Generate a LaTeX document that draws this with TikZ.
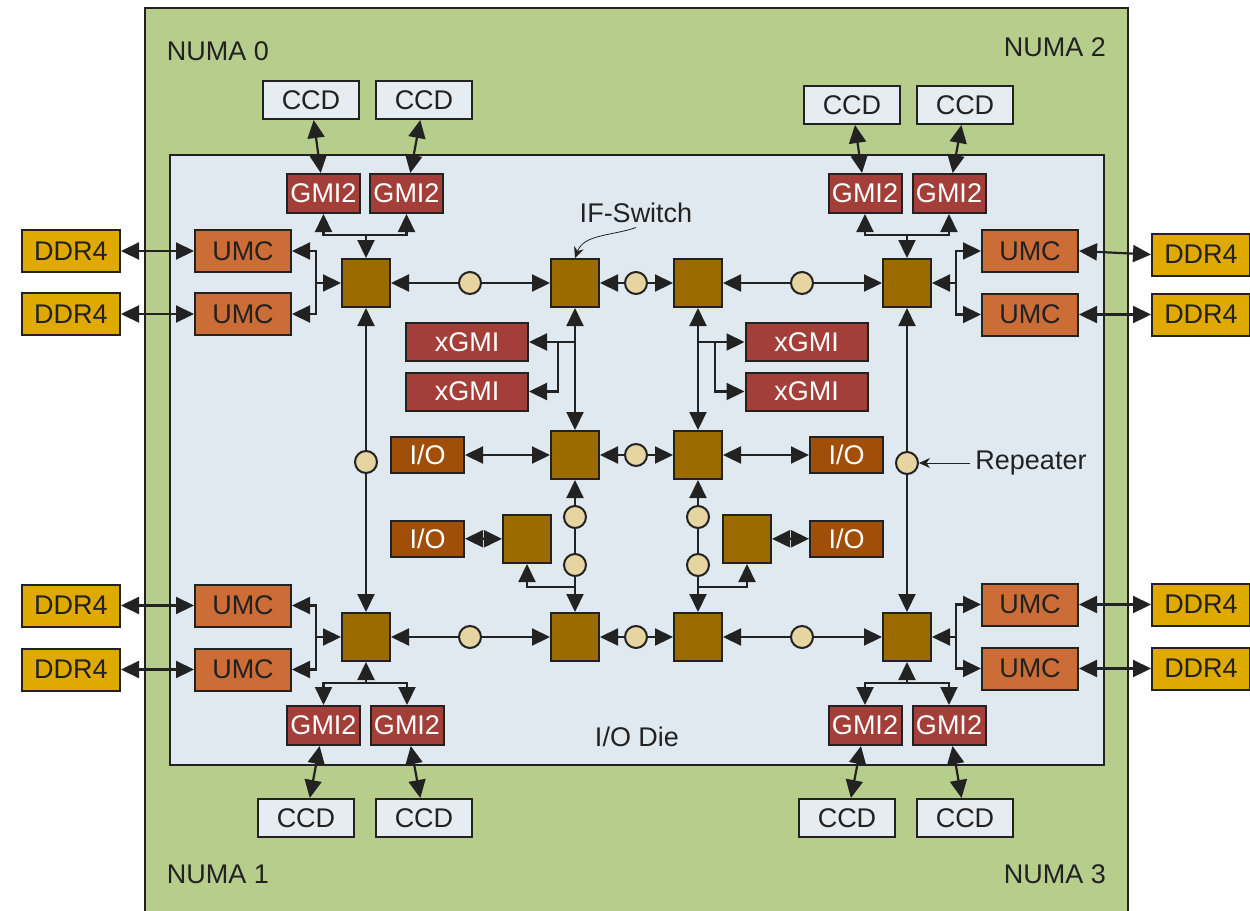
\documentclass[tikz,border=0pt]{standalone}
\usepackage{fontspec}
\setmainfont{Liberation Sans}
\usetikzlibrary{arrows.meta}

\definecolor{ink}{HTML}{222222}
\definecolor{numagreen}{HTML}{B6CD8C}
\definecolor{diebg}{HTML}{E1E9F0}
\definecolor{ccdbg}{HTML}{E5EDF3}
\definecolor{gmired}{HTML}{A33F38}
\definecolor{umcorange}{HTML}{CC6C36}
\definecolor{ddrgold}{HTML}{E0A900}
\definecolor{swbrown}{HTML}{9C6B00}
\definecolor{iobrown}{HTML}{A04E08}
\definecolor{reptan}{HTML}{E6D4A1}

\begin{document}
\begin{tikzpicture}[x=0.5pt,y=-0.5pt,line width=1.1pt,draw=ink,
    >={Triangle[length=9pt,width=8.5pt]},
    every node/.style={font=\fontsize{13.5}{16}\selectfont,text=ink},
    box/.style={draw=ink,line width=1pt,inner sep=0pt},
    ccd/.style={box,fill=ccdbg,minimum width=48pt,minimum height=19pt},
    gmi/.style={box,fill=gmired,text=white,minimum width=36.5pt,minimum height=19.5pt},
    xgmi/.style={box,fill=gmired,text=white,minimum width=61pt,minimum height=19pt},
    umc/.style={box,fill=umcorange,minimum width=48pt,minimum height=21pt},
    ddr/.style={box,fill=ddrgold,minimum width=49pt,minimum height=21pt},
    io/.style={box,fill=iobrown,text=white,minimum width=36.5pt,minimum height=18pt},
    sw/.style={box,fill=swbrown,minimum size=24pt},
    rep/.style={circle,draw=ink,line width=1pt,fill=reptan,minimum size=11pt,inner sep=0pt},
    note/.style={inner sep=2pt},
    pointer/.style={thin,-{Stealth[length=5.5pt,width=5pt]}}]

    \useasboundingbox (0,0) rectangle (1250,911);

    % package and I/O die
    \draw[line width=1pt,fill=numagreen] (145,8) rectangle (1128,940);
    \draw[line width=1pt,fill=diebg] (170,155) rectangle (1104,765);

    % labels
    \node (numa0) at (218,51) {NUMA 0};
    \node (numa2) at (1055,47) {NUMA 2};
    \node (numa1) at (218,874) {NUMA 1};
    \node (numa3) at (1055,874) {NUMA 3};
    \node (die) at (637,737) {I/O Die};
    \node[note] (ifsw) at (636,212.5) {IF-Switch};
    \node[note] (replabel) at (1031,463) {Repeater};

    % NUMA 0
    \node[ccd] (ccdA1) at (311,100) {CCD};
    \node[ccd] (ccdA2) at (424,100) {CCD};
    \node[gmi] (gmiA1) at (323.5,193.5) {GMI2};
    \node[gmi] (gmiA2) at (406.5,193.5) {GMI2};
    \node[ddr] (ddrA1) at (71,251) {DDR4};
    \node[ddr] (ddrA2) at (71,314) {DDR4};
    \node[umc] (umcA1) at (243,251) {UMC};
    \node[umc] (umcA2) at (243,314) {UMC};
    \node[sw] (swA) at (366,283) {};

    % NUMA 2
    \node[ccd] (ccdC1) at (852,105) {CCD};
    \node[ccd] (ccdC2) at (965,105) {CCD};
    \node[gmi] (gmiC1) at (865,193.5) {GMI2};
    \node[gmi] (gmiC2) at (949,193.5) {GMI2};
    \node[ddr] (ddrC1) at (1201,254.5) {DDR4};
    \node[ddr] (ddrC2) at (1201,314.5) {DDR4};
    \node[umc] (umcC1) at (1030,251) {UMC};
    \node[umc] (umcC2) at (1030,314.5) {UMC};
    \node[sw] (swC) at (907,283) {};

    % NUMA 1
    \node[ccd] (ccdB1) at (306,818) {CCD};
    \node[ccd] (ccdB2) at (424,818) {CCD};
    \node[gmi] (gmiB1) at (323.5,725.5) {GMI2};
    \node[gmi] (gmiB2) at (407,725.5) {GMI2};
    \node[ddr] (ddrB1) at (71,605.5) {DDR4};
    \node[ddr] (ddrB2) at (71,669.5) {DDR4};
    \node[umc] (umcB1) at (243,605.5) {UMC};
    \node[umc] (umcB2) at (243,669.5) {UMC};
    \node[sw] (swB) at (366,637) {};

    % NUMA 3
    \node[ccd] (ccdD1) at (847,818) {CCD};
    \node[ccd] (ccdD2) at (965,818) {CCD};
    \node[gmi] (gmiD1) at (865,725.5) {GMI2};
    \node[gmi] (gmiD2) at (949,725.5) {GMI2};
    \node[ddr] (ddrD1) at (1201,604.5) {DDR4};
    \node[ddr] (ddrD2) at (1201,668.5) {DDR4};
    \node[umc] (umcD1) at (1030,604.5) {UMC};
    \node[umc] (umcD2) at (1030,668.5) {UMC};
    \node[sw] (swD) at (907,637) {};

    % centre switches, xGMI and I/O
    \node[sw] (swT1) at (575,283) {};
    \node[sw] (swT2) at (698,283) {};
    \node[sw] (swM1) at (575,455) {};
    \node[sw] (swM2) at (698,455) {};
    \node[sw] (swB1) at (575,637) {};
    \node[sw] (swB2) at (698,637) {};
    \node[sw] (swS1) at (527,539) {};
    \node[sw] (swS2) at (747,539) {};
    \node[xgmi] (xgmiL1) at (467,342) {xGMI};
    \node[xgmi] (xgmiL2) at (467,391.5) {xGMI};
    \node[xgmi] (xgmiR1) at (806.5,342) {xGMI};
    \node[xgmi] (xgmiR2) at (806.5,391.5) {xGMI};
    \node[io] (ioL1) at (427.5,455) {I/O};
    \node[io] (ioL2) at (427.5,538.5) {I/O};
    \node[io] (ioR1) at (846.5,455) {I/O};
    \node[io] (ioR2) at (846.5,538.5) {I/O};

    % repeaters
    \foreach \name/\px/\py in {r1/470/283, r2/636/283, r3/802/283, r4/366/462,
        r5/907/463, r6/636/455, r7/575/517, r8/575/565, r9/698/517,
        r10/698/565, r11/470/637, r12/636/637, r13/802/637}
        \node[rep] (\name) at (\px,\py) {};

    % fork points
    \coordinate (gforkA) at (366,235);
    \coordinate (gforkC) at (907,235);
    \coordinate (gforkB) at (366,683);
    \coordinate (gforkD) at (907,683);
    \coordinate (uforkA) at (316,283);
    \coordinate (uforkC) at (956,283);
    \coordinate (uforkB) at (316,637);
    \coordinate (uforkD) at (956,637);
    \coordinate (xforkL) at (558,342);
    \coordinate (xforkR) at (715,342);
    \coordinate (sforkL) at (575,587);
    \coordinate (sforkR) at (698,587);

    % CCD <-> GMI2
    \foreach \c in {A,B,C,D} {
        \draw[<->] (ccd\c1) -- (gmi\c1);
        \draw[<->] (ccd\c2) -- (gmi\c2);
    }

    % DDR4 <-> UMC
    \draw[<->] (ddrA1) -- (umcA1);
    \draw[<->] (ddrA2) -- (umcA2);
    \draw[<->] (ddrB1) -- (umcB1);
    \draw[<->] (ddrB2) -- (umcB2);
    \draw[<->] (umcC1.east) -- (ddrC1.west);
    \draw[<->] (umcC2) -- (ddrC2);
    \draw[<->] (umcD1) -- (ddrD1);
    \draw[<->] (umcD2) -- (ddrD2);

    % GMI2 forks
    \foreach \c in {A,C} {
        \draw[->] (gfork\c) -- (sw\c.north);
        \draw[->] (gfork\c) -| (gmi\c1.south);
        \draw[->] (gfork\c) -| (gmi\c2.south);
    }
    \foreach \c in {B,D} {
        \draw[->] (gfork\c) -- (sw\c.south);
        \draw[->] (gfork\c) -| (gmi\c1.north);
        \draw[->] (gfork\c) -| (gmi\c2.north);
    }

    % UMC forks
    \foreach \c in {A,B} {
        \draw[->] (ufork\c) -- (sw\c.west);
        \draw[->] (ufork\c) |- (umc\c1.east);
        \draw[->] (ufork\c) |- (umc\c2.east);
    }
    \foreach \c in {C,D} {
        \draw[->] (ufork\c) -- (sw\c.east);
        \draw[->] (ufork\c) |- (umc\c1.west);
        \draw[->] (ufork\c) |- (umc\c2.west);
    }

    % top and bottom rows
    \draw[<-] (swA) -- (r1);   \draw[->] (r1) -- (swT1);
    \draw[<-] (swT1) -- (r2);  \draw[->] (r2) -- (swT2);
    \draw[<-] (swT2) -- (r3);  \draw[->] (r3) -- (swC);
    \draw[<-] (swB) -- (r11);  \draw[->] (r11) -- (swB1);
    \draw[<-] (swB1) -- (r12); \draw[->] (r12) -- (swB2);
    \draw[<-] (swB2) -- (r13); \draw[->] (r13) -- (swD);

    % outer columns
    \draw[<-] (swA) -- (r4); \draw[->] (r4) -- (swB);
    \draw[<-] (swC) -- (r5); \draw[->] (r5) -- (swD);

    % xGMI
    \draw[<->] (swT1) -- (swM1);
    \draw[<->] (swT2) -- (swM2);
    \draw[->] (swT1.south |- xforkL) -- (xgmiL1.east);
    \draw[->] (xforkL) |- (xgmiL2.east);
    \draw[->] (swT2.south |- xforkR) -- (xgmiR1.west);
    \draw[->] (xforkR) |- (xgmiR2.west);

    % middle row and I/O
    \draw[<->] (ioL1) -- (swM1);
    \draw[<-] (swM1) -- (r6); \draw[->] (r6) -- (swM2);
    \draw[<->] (swM2) -- (ioR1);
    \draw[<->] (ioL2) -- (swS1);
    \draw[<->] (swS2) -- (ioR2);

    % lower columns
    \draw[<-] (swM1) -- (r7); \draw (r7) -- (r8); \draw[->] (r8) -- (swB1);
    \draw[<-] (swM2) -- (r9); \draw (r9) -- (r10); \draw[->] (r10) -- (swB2);
    \draw[->] (sforkL) -| (swS1.south);
    \draw[->] (sforkR) -| (swS2.south);

    % annotations
    \draw[pointer] (ifsw.south) .. controls (612,236) and (584,234) .. (swT1.north);
    \draw[pointer] (replabel.west) -- (r5.east);

\end{tikzpicture}
\end{document}
